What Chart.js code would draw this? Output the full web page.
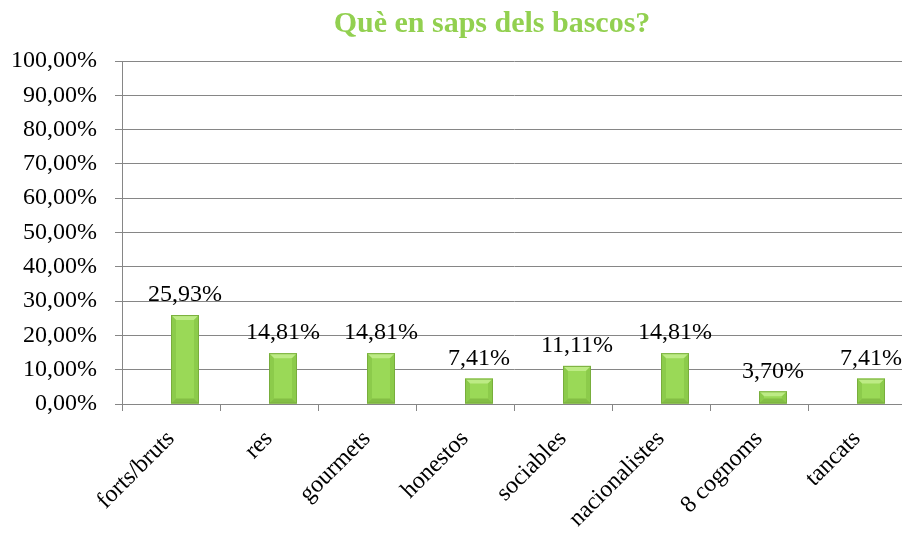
<!DOCTYPE html>
<html>
<head>
<meta charset="utf-8">
<script src="https://cdn.jsdelivr.net/npm/chart.js@4"></script>
<style>
  html, body { margin: 0; padding: 0; overflow: hidden; background: #fff; }
  #wrap { width: 906px; height: 535px; }
</style>
</head>
<body>
<div id="wrap"><canvas id="chart" width="906" height="535"></canvas></div>
<script>
const categories = ['forts/bruts', 'res', 'gourmets', 'honestos', 'sociables', 'nacionalistes', '8 cognoms', 'tancats'];
const values = [25.93, 14.81, 14.81, 7.41, 11.11, 14.81, 3.70, 7.41];
const yTicks = [0, 10, 20, 30, 40, 50, 60, 70, 80, 90, 100];
const title = 'Què en saps dels bascos?';

const green = '#92D050';
const gridGray = '#868686';
const serif = "'Liberation Serif', 'Times New Roman', serif";

function pct(v) {
  return v.toFixed(2).replace('.', ',') + '%';
}

// title sits a bit left of the plot centre in the original, so draw it here
const chartTitle = {
  id: 'chartTitle',
  afterDraw(chart) {
    const ctx = chart.ctx;
    ctx.save();
    ctx.fillStyle = green;
    ctx.font = 'bold 30px ' + serif;
    ctx.textAlign = 'center';
    ctx.textBaseline = 'middle';
    ctx.fillText(title, 492, 24);
    ctx.restore();
  }
};

// bevelled bars + value labels
const bevelBars = {
  id: 'bevelBars',
  afterDatasetsDraw(chart) {
    const ctx = chart.ctx;
    const meta = chart.getDatasetMeta(1);
    meta.data.forEach((bar, i) => {
      const p = bar.getProps(['x', 'y', 'base', 'width'], true);
      const l = p.x - p.width / 2, r = p.x + p.width / 2;
      const t = p.y, b = p.base;
      const h = b - t;
      const d = Math.min(5, h / 2);
      ctx.save();
      ctx.fillStyle = '#9AD957';
      ctx.fillRect(l, t, p.width, h);
      // top bevel
      ctx.fillStyle = '#BDEB85';
      ctx.beginPath();
      ctx.moveTo(l, t); ctx.lineTo(r, t); ctx.lineTo(r - d, t + d); ctx.lineTo(l + d, t + d);
      ctx.closePath(); ctx.fill();
      // bottom bevel
      ctx.fillStyle = '#83BE45';
      ctx.beginPath();
      ctx.moveTo(l, b); ctx.lineTo(r, b); ctx.lineTo(r - d, b - d); ctx.lineTo(l + d, b - d);
      ctx.closePath(); ctx.fill();
      // side bevels
      ctx.fillStyle = '#8CCB4B';
      ctx.beginPath();
      ctx.moveTo(l, t); ctx.lineTo(l + d, t + d); ctx.lineTo(l + d, b - d); ctx.lineTo(l, b);
      ctx.closePath(); ctx.fill();
      ctx.beginPath();
      ctx.moveTo(r, t); ctx.lineTo(r - d, t + d); ctx.lineTo(r - d, b - d); ctx.lineTo(r, b);
      ctx.closePath(); ctx.fill();
      ctx.strokeStyle = '#78AE3C';
      ctx.lineWidth = 1;
      ctx.strokeRect(l + 0.5, t + 0.5, p.width - 1, h - 1);
      // value label
      ctx.fillStyle = '#000';
      ctx.font = '24px ' + serif;
      ctx.textAlign = 'center';
      ctx.textBaseline = 'bottom';
      ctx.fillText(pct(values[i]), p.x, t - 8);
      ctx.restore();
    });
  }
};

new Chart(document.getElementById('chart'), {
  type: 'bar',
  data: {
    labels: categories,
    datasets: [
      // empty slot so the bars sit right of the category centre, as in the original
      { data: categories.map(() => null), backgroundColor: 'rgba(0,0,0,0)' },
      { data: values, backgroundColor: 'rgba(0,0,0,0)', borderWidth: 0 }
    ]
  },
  options: {
    responsive: false,
    devicePixelRatio: 1,
    animation: false,
    categoryPercentage: 0.5714,
    barPercentage: 1,
    layout: { padding: { left: 0, right: 0, top: 61, bottom: 0 } },
    plugins: {
      legend: { display: false },
      tooltip: { enabled: false },
      title: { display: false }
    },
    scales: {
      x: {
        grid: {
          offset: true,
          drawOnChartArea: false,
          drawTicks: true,
          tickLength: 7,
          color: gridGray
        },
        border: { color: gridGray, width: 1 },
        ticks: {
          autoSkip: false,
          maxRotation: 45,
          minRotation: 45,
          padding: 14,
          color: '#000',
          font: { family: serif, size: 24 }
        },
        afterFit(scale) { scale.height = 131; }
      },
      y: {
        min: 0,
        max: 100,
        afterBuildTicks(scale) { scale.ticks = yTicks.map(v => ({ value: v })); },
        grid: { color: gridGray, tickLength: 7, lineWidth: 1 },
        border: { color: gridGray, width: 1 },
        ticks: {
          padding: 18,
          color: '#000',
          font: { family: serif, size: 24 },
          callback: v => pct(v)
        },
        afterFit(scale) { scale.width = 122; }
      }
    }
  },
  plugins: [bevelBars, chartTitle]
});
</script>
</body>
</html>
